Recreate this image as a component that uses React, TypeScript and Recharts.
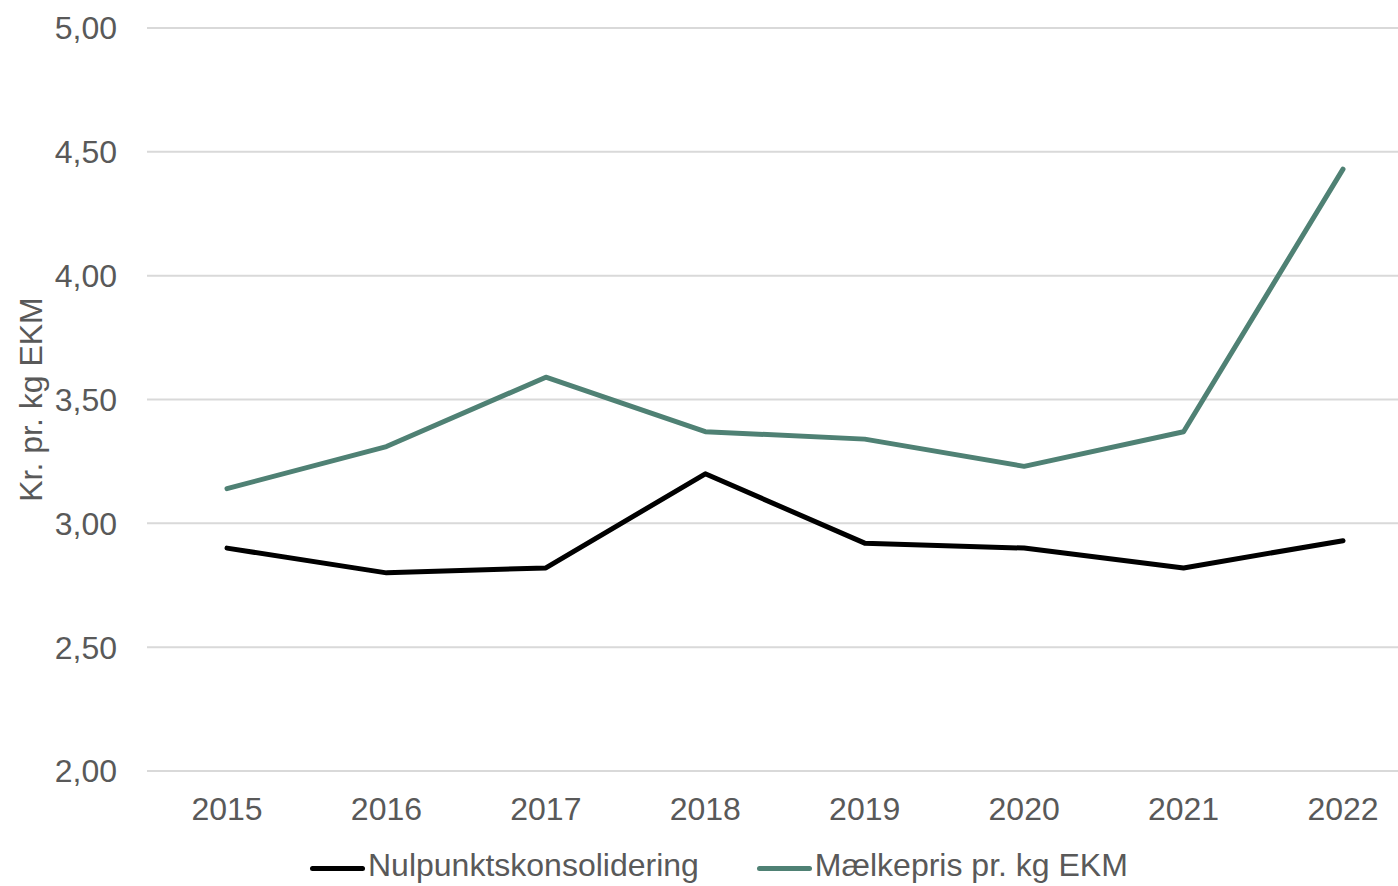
import { CartesianGrid, Legend, Line, LineChart, XAxis, YAxis } from "recharts"

// Years on the x axis
const years = ["2015", "2016", "2017", "2018", "2019", "2020", "2021", "2022"]

// Kr. pr. kg EKM
const nulpunkt = [2.9, 2.8, 2.82, 3.2, 2.92, 2.9, 2.82, 2.93]
const maelkepris = [3.14, 3.31, 3.59, 3.37, 3.34, 3.23, 3.37, 4.43]

const yTicks = [2, 2.5, 3, 3.5, 4, 4.5, 5]

const series = [
  { key: "nulpunkt", name: "Nulpunktskonsolidering", color: "#000000" },
  { key: "maelkepris", name: "Mælkepris pr. kg EKM", color: "#4f8174" },
]

const data = years.map((year, i) => ({
  year,
  nulpunkt: nulpunkt[i],
  maelkepris: maelkepris[i],
}))

const FONT = "'Liberation Sans', Arial, sans-serif"
const TEXT = "#595959"
const FS = 32

const fmt = (v: number) => v.toFixed(2).replace(".", ",")

// legend keeps the series order (recharts 3 sorts payload by name otherwise)
function LegendContent() {
  return (
    <div
      style={{
        height: 55,
        boxSizing: "border-box",
        paddingTop: 14,
        paddingLeft: 310,
        display: "flex",
        alignItems: "center",
        fontFamily: FONT,
        fontSize: FS,
        color: TEXT,
      }}
    >
      {series.map((s, i) => (
        <div
          key={s.key}
          style={{ display: "flex", alignItems: "center", marginLeft: i === 0 ? 0 : 58 }}
        >
          <span
            style={{
              display: "inline-block",
              width: 55,
              height: 5,
              borderRadius: 3,
              background: s.color,
              marginRight: 3,
              marginTop: 6,
            }}
          />
          <span>{s.name}</span>
        </div>
      ))}
    </div>
  )
}

export default function App() {
  return (
    <div
      style={{
        position: "fixed",
        left: 0,
        top: 0,
        width: 1398,
        height: 886,
        overflow: "hidden",
        background: "#ffffff",
      }}
    >
      <LineChart
        width={1423}
        height={886}
        data={data}
        margin={{ top: 28, right: 0, bottom: 0, left: 0 }}
      >
        <CartesianGrid vertical={false} stroke="#d9d9d9" strokeWidth={2} />
        <XAxis
          dataKey="year"
          axisLine={false}
          tickLine={false}
          tickSize={0}
          tickMargin={26}
          height={60}
          interval={0}
          padding={{ left: 80, right: 80 }}
          tick={{ fill: TEXT, fontSize: FS, fontFamily: FONT }}
        />
        <YAxis
          domain={[2, 5]}
          ticks={yTicks}
          tickFormatter={fmt}
          axisLine={false}
          tickLine={false}
          tickSize={0}
          tickMargin={30}
          width={147}
          tick={{ fill: TEXT, fontSize: FS, fontFamily: FONT }}
          label={{
            content: ({ viewBox }: any) => {
              const cy = viewBox.y + viewBox.height / 2
              return (
                <text
                  x={42}
                  y={cy}
                  transform={`rotate(-90, 42, ${cy})`}
                  textAnchor="middle"
                  fill={TEXT}
                  fontSize={FS}
                  fontFamily={FONT}
                >
                  Kr. pr. kg EKM
                </text>
              )
            },
          }}
        />
        <Legend
          verticalAlign="bottom"
          align="left"
          height={55}
          wrapperStyle={{ left: 0, bottom: 0, height: 55 }}
          content={<LegendContent />}
        />
        {series.map((s) => (
          <Line
            key={s.key}
            type="linear"
            dataKey={s.key}
            name={s.name}
            stroke={s.color}
            strokeWidth={5}
            strokeLinecap="round"
            strokeLinejoin="round"
            dot={false}
            activeDot={false}
            isAnimationActive={false}
          />
        ))}
      </LineChart>
    </div>
  )
}
